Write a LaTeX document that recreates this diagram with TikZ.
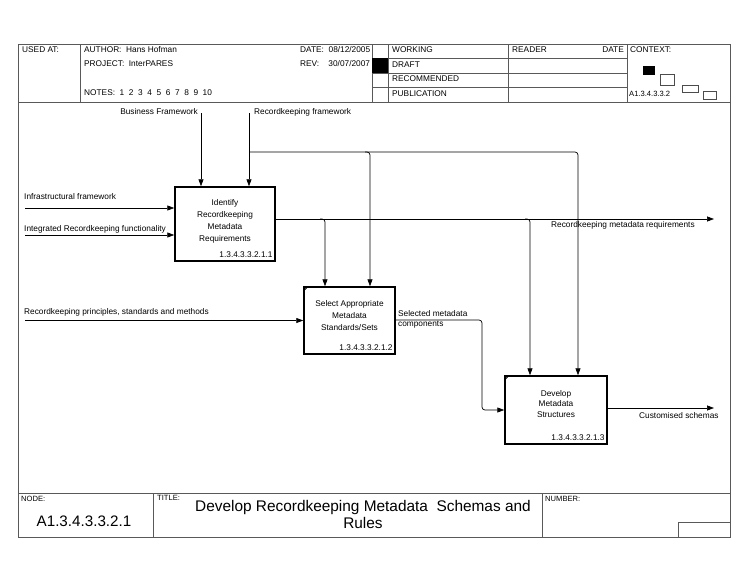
\documentclass[tikz,border=0pt]{standalone}
\usepackage{fontspec}
\setmainfont{Liberation Sans}
\usetikzlibrary{arrows.meta}
\begin{document}
\begin{tikzpicture}[x=1pt,y=-1pt,
  frame/.style={draw=black!65, line width=0.8pt},
  lbl/.style={font=\fontsize{8.3}{12}\selectfont, inner sep=0pt},
  hdr/.style={font=\fontsize{8.3}{10}\selectfont, inner sep=0pt, anchor=west},
  tiny/.style={font=\fontsize{7.6}{8}\selectfont, inner sep=0pt, anchor=west},
  actbox/.style={draw, line width=1.5pt, inner sep=0pt},
  conn/.style={line width=0.7pt, rounded corners=3pt},
  arr/.style={conn, -{Triangle[length=7pt,width=5pt]}},
  ctx/.style={draw=black!70, line width=0.6pt},
]
\useasboundingbox (0,0) rectangle (750,579);
% ---- frame ----
\draw[frame] (18,44) rectangle (730,537);
\draw[frame] (18,102) -- (730,102);
\draw[frame] (18,493) -- (730,493);
\foreach \x in {80,372,388,508,627} \draw[frame] (\x,44) -- (\x,102);
\foreach \y in {58,73,87} \draw[frame] (372,\y) -- (627,\y);
\fill (372,58) rectangle (388,73);
\draw[frame] (153,493) -- (153,537);
\draw[frame] (542,493) -- (542,537);
\draw[frame] (678,537) -- (678,522) -- (730,522);
% ---- header text ----
\node[hdr] (usedat) at (22,50) {USED AT:};
\node[hdr] (author) at (84,50) {AUTHOR:\ \ Hans Hofman};
\node[hdr] (project) at (84,64) {PROJECT:\ \ InterPARES};
\node[hdr] (notes) at (84,93) {NOTES:\ \ 1\ \ 2\ \ 3\ \ 4\ \ 5\ \ 6\ \ 7\ \ 8\ \ 9\ \ 10};
\node[hdr] (date) at (300,50) {DATE:\ \ 08/12/2005};
\node[hdr] (rev) at (300,64) {REV:\ \ \ \ 30/07/2007};
\node[hdr] (working) at (392,50) {WORKING};
\node[hdr] (draft) at (392,65) {DRAFT};
\node[hdr] (recom) at (392,79) {RECOMMENDED};
\node[hdr] (publ) at (392,94) {PUBLICATION};
\node[hdr] (reader) at (512,50) {READER};
\node[hdr, anchor=east] (rdate) at (624,50) {DATE};
\node[hdr] (context) at (630,50) {CONTEXT:};
\node[hdr, font=\fontsize{7.6}{8}\selectfont] (ctxid) at (629,94) {A1.3.4.3.3.2};
\fill (643,66) rectangle (655,75);
\draw[ctx] (660,74) rectangle (674,85);
\draw[ctx] (682,85) rectangle (698,92);
\draw[ctx] (703,91) rectangle (716,99);
% ---- footer text ----
\node[tiny] (nodelbl) at (21,499) {NODE:};
\node[tiny] (titlelbl) at (157,498) {TITLE:};
\node[tiny] (numlbl) at (545,499) {NUMBER:};
\node[font=\fontsize{15.2}{17}\selectfont, inner sep=0pt] (nodeid) at (84,521) {A1.3.4.3.3.2.1};
\node[font=\fontsize{15.4}{17}\selectfont, align=center, inner sep=0pt] (title) at (363,514.5)
  {Develop Recordkeeping Metadata\ \ Schemas and\\Rules};
% ---- activity boxes ----
\node[actbox, minimum width=100pt, minimum height=74pt] (b1) at (225,224) {};
\node[actbox, minimum width=91pt, minimum height=67pt] (b2) at (349.5,320.5) {};
\node[actbox, minimum width=102pt, minimum height=68pt] (b3) at (556,410) {};
\draw[line width=0.9pt] ([yshift=-5pt]b2.north west) -- ([xshift=5pt]b2.north west);
\draw[line width=0.9pt] ([yshift=-5pt]b3.north west) -- ([xshift=5pt]b3.north west);
\node[lbl, align=center] (t1) at (225,221) {Identify\\Recordkeeping\\Metadata\\Requirements};
\node[lbl, align=center] (t2) at (349.5,316) {Select Appropriate\\Metadata\\Standards/Sets};
\node[lbl, align=center, font=\fontsize{8.3}{10.3}\selectfont] (t3) at (556,404) {Develop\\Metadata\\Structures};
\node[lbl, anchor=south east] (id1) at ([xshift=-3pt,yshift=3.5pt]b1.south east) {1.3.4.3.3.2.1.1};
\node[lbl, anchor=south east] (id2) at ([xshift=-3pt,yshift=3.5pt]b2.south east) {1.3.4.3.3.2.1.2};
\node[lbl, anchor=south east] (id3) at ([xshift=-3pt,yshift=3.5pt]b3.south east) {1.3.4.3.3.2.1.3};
% ---- controls ----
\coordinate (bfTop) at (201,113);
\coordinate (rfTop) at (249,113);
\node[lbl, anchor=east] (bflbl) at (198,112) {Business Framework};
\node[lbl, anchor=west] (rflbl) at (254,112) {Recordkeeping framework};
\draw[arr] (bfTop) -- (bfTop |- b1.north);
\draw[arr] (rfTop) -- (rfTop |- b1.north);
\coordinate (rfJ) at (249,152);
\draw[arr] (rfJ) -| ([xshift=22pt]b3.north);
\coordinate (rfJ2) at (365,152);
\draw[arr] (rfJ2) -| ([xshift=20.5pt]b2.north);
% ---- inputs ----
\coordinate (in1) at (25,208);
\coordinate (in2) at (25,235);
\coordinate (in3) at (25,320.5);
\node[lbl, anchor=west] (in1lbl) at (24,197) {Infrastructural framework};
\node[lbl, anchor=west] (in2lbl) at (24,229) {Integrated Recordkeeping functionality};
\node[lbl, anchor=west] (in3lbl) at (24,312) {Recordkeeping principles, standards and methods};
\draw[arr] (in1) -- (b1.west |- in1);
\draw[arr] (in2) -- (b1.west |- in2);
\draw[arr] (in3) -- (b2.west);
% ---- outputs ----
\coordinate (o1end) at (714,219);
\draw[arr] ([yshift=5pt]b1.east) -- (o1end);
\node[lbl, anchor=west] (o1lbl) at (551,225.5) {Recordkeeping metadata requirements};
\coordinate (o1J) at (320,219);
\draw[arr] (o1J) -| ([xshift=-24.5pt]b2.north);
\coordinate (o1J2) at (525,219);
\draw[arr] (o1J2) -| ([xshift=-26pt]b3.north);
\coordinate (o2bend) at (482,320);
\draw[arr] ([yshift=0.5pt]b2.east) -- (o2bend) |- (b3.west);
\node[lbl, anchor=north west, align=left, font=\fontsize{8.3}{10.5}\selectfont] (o2lbl) at (398,310) {Selected metadata\\components};
\coordinate (o3end) at (714,408);
\draw[arr] ([yshift=2pt]b3.east) -- (o3end);
\node[lbl, anchor=west] (o3lbl) at (639,416) {Customised schemas};
\end{tikzpicture}
\end{document}
